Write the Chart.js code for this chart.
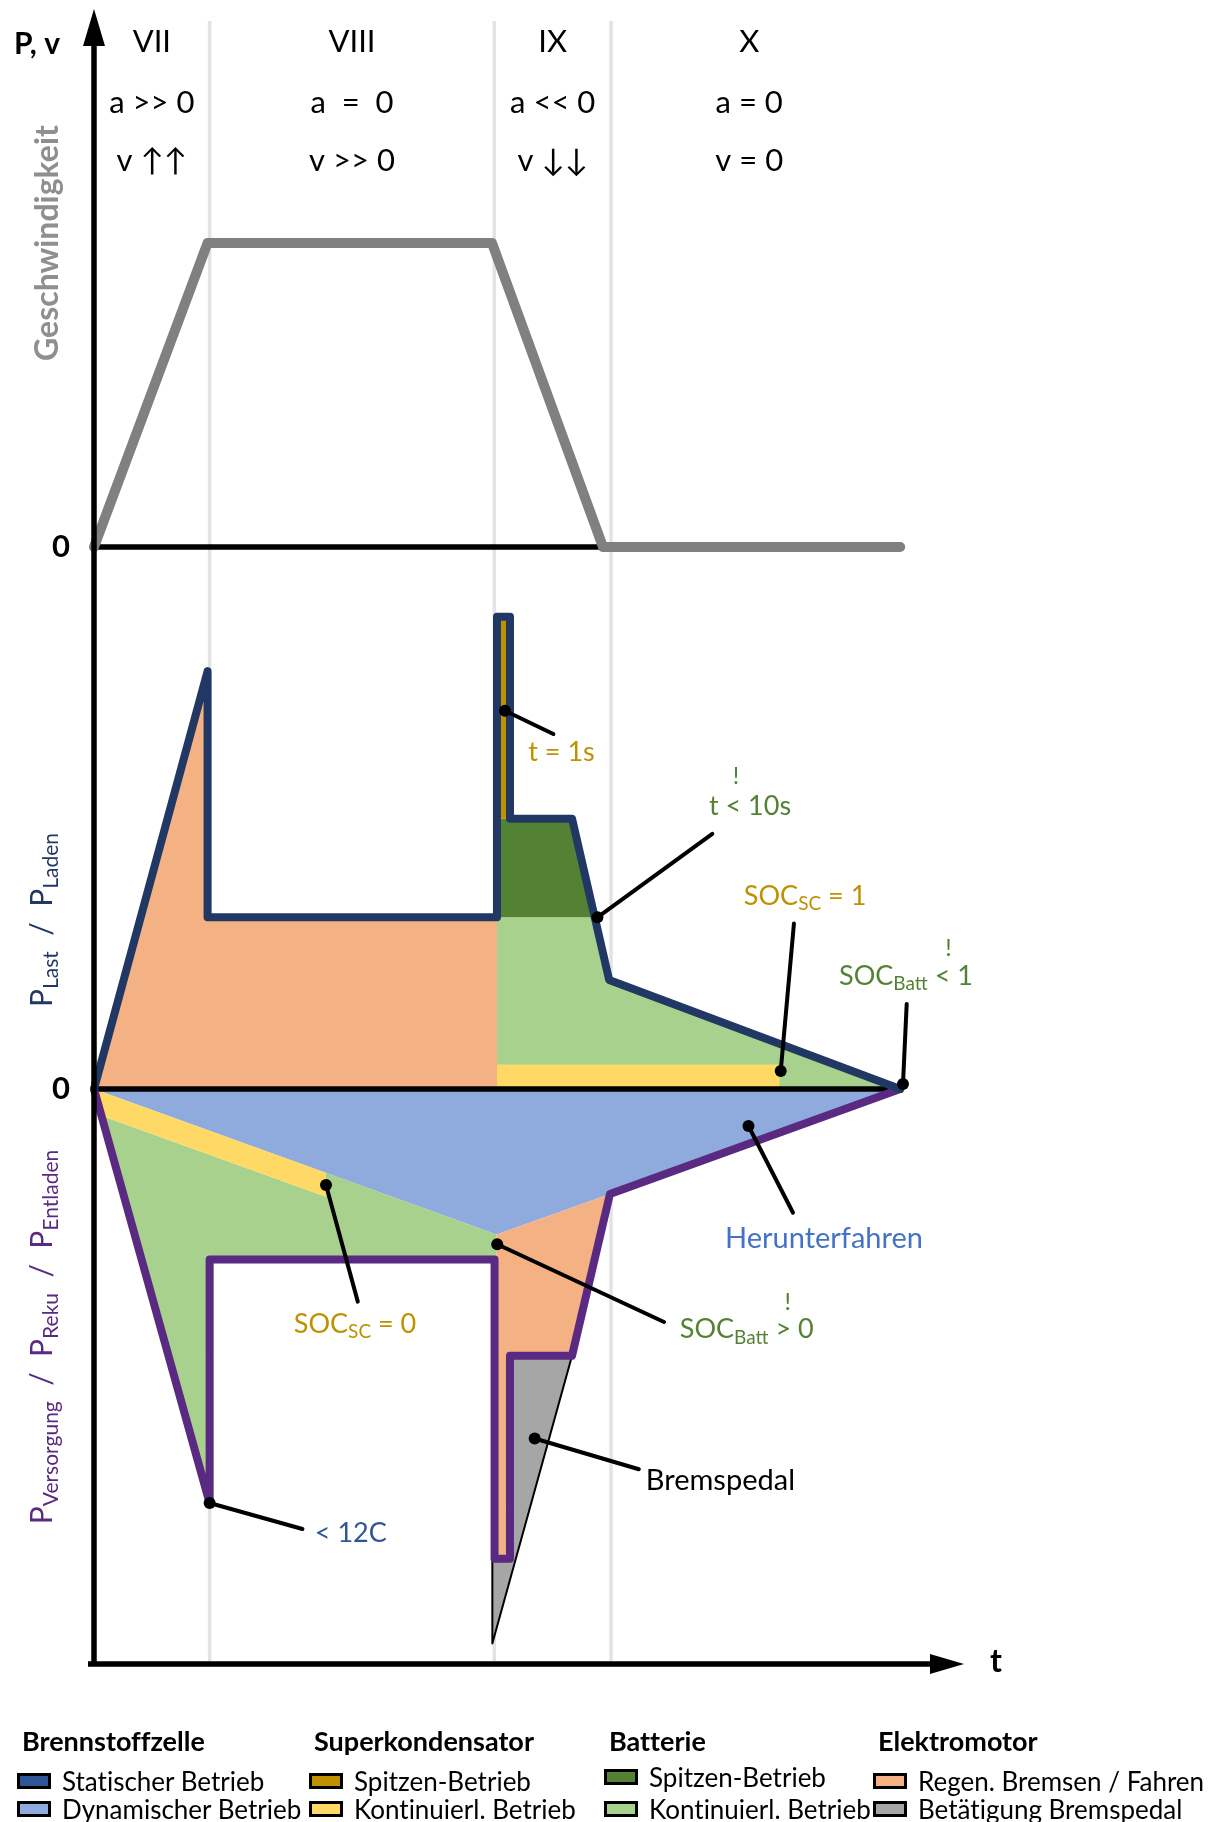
<!DOCTYPE html>
<html lang="de">
<head>
<meta charset="utf-8">
<title>Betriebsphasen VII–X</title>
<script src="https://cdn.jsdelivr.net/npm/chart.js@4.4.1/dist/chart.umd.min.js"></script>
<style>
  html, body { margin: 0; padding: 0; background: #fff; }
  #wrap { position: relative; width: 1217px; height: 1822px; overflow: hidden; }
  #legend { position: absolute; left: 0; top: 0; font-family: Lato, "Noto Sans", sans-serif; color: #000; font-variant-ligatures: none; }
  .col { position: absolute; top: 1726px; }
  .hd { font-weight: 700; font-size: 27px; line-height: 30px; height: 30px; padding-left: 5px; margin-bottom: 11px; }
  .it { font-size: 26px; line-height: 28px; height: 28px; white-space: nowrap; display: flex; align-items: center; }
  .box { display: inline-block; width: 28px; height: 10px; border: 3px solid #000; margin-right: 11px; }
</style>
</head>
<body>
<div id="wrap">
  <canvas id="chart"></canvas>
  <div id="legend"></div>
</div>
<script>
// Phasen VII..X auf der Zeitachse (willkürliche Einheiten)
const phaseEdges = [0, 9.97, 34.51, 44.57, 68.4];
const phaseNames = ['VII', 'VIII', 'IX', 'X'];
const accelLabels = ['a >> 0', 'a  =  0', 'a << 0', 'a = 0'];
const speedLabels = ['v \u2191\u2191', 'v >> 0', 'v \u2193\u2193', 'v = 0'];
const gridT = [9.97, 34.51, 44.57];

// Geschwindigkeit, normiert auf v_max
const speedT = [0, 9.79, 34.31, 43.88, 69.5];
const speedV = [0, 1, 1, 0, 0];
const zeroT = [0, 69.5];
const zeroV = [0, 0];

// Umriss P_Last (oben) und P_Versorgung (unten)
const lastT = [0, 9.79, 9.79, 34.74, 34.74, 35.86, 35.86, 41.21, 44.41, 69.5];
const lastP = [0, 36.0, 14.8, 14.8, 40.7, 40.7, 23.3, 23.3, 9.4, 0];
const versT = [0, 9.97, 9.97, 34.53, 34.53, 35.86, 35.86, 41.21, 44.48, 69.5];
const versP = [0, -35.7, -14.7, -14.7, -40.5, -40.5, -23.0, -23.0, -9.05, 0];

// Flächen der einzelnen Quellen
const motorUpT = [0, 9.79, 9.79, 34.74, 34.74];
const motorUpP = [0, 36.0, 14.8, 14.8, 0];
const battUpT = [34.74, 34.74, 43.16, 44.41, 69.5];
const battUpP = [0, 14.8, 14.8, 9.4, 0];
const scUpT = [34.74, 34.74, 59.1, 59.1];
const scUpP = [0, 2.1, 2.1, 0];
const battPeakT = [34.74, 34.74, 41.21, 43.16];
const battPeakP = [14.8, 23.3, 23.3, 14.8];
const scPeakT = [34.74, 34.74, 35.86, 35.86];
const scPeakP = [23.3, 40.7, 40.7, 23.3];

const fcDynT = [0, 34.7, 44.48, 69.5];
const fcDynP = [0, -12.55, -9.05, 0];
const battDownT = [0.64, 20.0, 20.0, 34.7, 34.7, 9.97, 9.97];
const battDownP = [-2.3, -9.3, -7.22, -12.55, -14.7, -14.7, -35.7];
const scDownT = [0, 20.0, 20.0, 0.64];
const scDownP = [0, -7.22, -9.3, -2.3];
const motorDownT = [34.7, 44.48, 41.21, 35.86, 35.86, 34.53];
const motorDownP = [-12.55, -9.05, -23.0, -23.0, -40.5, -40.5];
const pedalT = [35.86, 41.21, 34.34, 34.34, 35.86];
const pedalP = [-23.0, -23.0, -47.8, -40.5, -40.5];

// Legende
const legendGroups = ['Brennstoffzelle', 'Superkondensator', 'Batterie', 'Elektromotor'];
const legendItems = [
  ['Statischer Betrieb', 'Dynamischer Betrieb'],
  ['Spitzen-Betrieb', 'Kontinuierl. Betrieb'],
  ['Spitzen-Betrieb', 'Kontinuierl. Betrieb'],
  ['Regen. Bremsen / Fahren', 'Betätigung Bremspedal'],
];
const legendColors = [
  ['#2f5597', '#8faadc'],
  ['#bf9000', '#ffd966'],
  ['#548235', '#a9d18e'],
  ['#f4b183', '#a5a5a5'],
];
const legendLeft = [17, 309, 604, 873];

const FONT = 'Lato, "Noto Sans", sans-serif';
const NAVY = '#213864';
const PURPLE = '#5a2a82';
const GOLD = '#bf9000';
const GREEN = '#548235';

// Beschriftungen mit Führungslinien (Koordinaten in Achseneinheiten)
const notes = [
  { dot: [35.43, 32.6], end: [39.6, 30.6], at: [40.3, 29.0], parts: [['t = 1s']], color: GOLD },
  { dot: [43.4, 14.8], end: [53.3, 22.0], at: [56.55, 24.4], parts: [['t < 10s']], bang: [55.34, 27.0], color: GREEN },
  { dot: [59.2, 1.55], end: [60.34, 14.26], at: [61.3, 16.64], parts: [['SOC'], ['SC', 1], [' = 1']], color: GOLD },
  { dot: [69.74, 0.43], end: [70.06, 7.33], at: [70.0, 9.74], parts: [['SOC'], ['Batt', 1], [' < 1']], bang: [73.66, 12.16], color: GREEN },
  { dot: [56.42, -3.19], end: [60.26, -10.67], at: [62.93, -12.91], parts: [['Herunterfahren']], color: '#4472c4', size: 29 },
  { dot: [34.76, -13.39], end: [49.14, -20.09], at: [56.27, -20.72], parts: [['SOC'], ['Batt', 1], [' > 0']], bang: [59.81, -18.42], color: GREEN },
  { dot: [20.0, -8.28], end: [22.74, -18.33], at: [22.5, -20.26], parts: [['SOC'], ['SC', 1], [' = 0']], color: GOLD },
  { dot: [37.99, -30.13], end: [46.97, -32.78], at: [54.0, -33.79], parts: [['Bremspedal']], color: '#000', size: 29 },
  { dot: [9.97, -35.69], end: [17.97, -37.93], at: [22.14, -38.33], parts: [['< 12C']], color: '#2f5597' },
];

const pts = (ts, vs) => ts.map((t, i) => ({ x: t, y: vs[i] }));

// Flächen: spätere Einträge liegen oben (kleineres order wird zuletzt gezeichnet)
let areaOrder = 60;
function area(ts, ps, color) {
  return {
    data: pts(ts, ps), yAxisID: 'yP', showLine: true, fill: 'shape',
    backgroundColor: color, borderColor: 'rgba(0,0,0,0)', borderWidth: 0,
    pointRadius: 0, order: areaOrder--, clip: false,
  };
}

function stroke(ts, vs, axis, color, width, order) {
  return {
    data: pts(ts, vs), yAxisID: axis, showLine: true, fill: false,
    borderColor: color, borderWidth: width, borderJoinStyle: 'round', borderCapStyle: 'round',
    pointRadius: 0, order, clip: false,
  };
}

const datasets = [
  area(motorUpT, motorUpP, '#f4b183'),
  area(battUpT, battUpP, '#a9d18e'),
  area(scUpT, scUpP, '#ffd966'),
  area(battPeakT, battPeakP, '#548235'),
  area(scPeakT, scPeakP, '#bf9000'),
  area(fcDynT, fcDynP, '#8faadc'),
  area(battDownT, battDownP, '#a9d18e'),
  area(scDownT, scDownP, '#ffd966'),
  area(motorDownT, motorDownP, '#f4b183'),
  area(pedalT, pedalP, '#a6a6a6'),
  stroke(pedalT.slice(1, 4), pedalP.slice(1, 4), 'yP', '#000', 2, 15),
  stroke(zeroT, zeroV, 'yP', '#000', 5.5, 10),
  stroke(zeroT, zeroV, 'yV', '#000', 5.5, 10),
  stroke(versT, versP, 'yP', PURPLE, 8, 5),
  stroke(lastT, lastP, 'yP', NAVY, 8, 4),
  stroke(speedT, speedV, 'yV', '#808080', 10, 1),
];

// Text mit tiefgestellten Teilen: parts = [[text, istIndex], ...]
function richText(ctx, parts, x, y, size, color, weight) {
  const big = `${weight || 400} ${size}px ${FONT}`;
  const small = `${weight || 400} ${Math.round(size * 0.7)}px ${FONT}`;
  let w = 0;
  parts.forEach(([s, sub]) => { ctx.font = sub ? small : big; w += ctx.measureText(s).width; });
  let cx = x - w / 2;
  ctx.fillStyle = color;
  ctx.textAlign = 'left';
  ctx.textBaseline = 'middle';
  parts.forEach(([s, sub]) => {
    ctx.font = sub ? small : big;
    ctx.fillText(s, cx, sub ? y + size * 0.3 : y);
    cx += ctx.measureText(s).width;
  });
}

function rotated(ctx, parts, x, y, size, color, weight) {
  ctx.save();
  ctx.translate(x, y);
  ctx.rotate(-Math.PI / 2);
  richText(ctx, parts, 0, 0, size, color, weight);
  ctx.restore();
}

const decor = {
  id: 'decor',
  beforeDatasetsDraw(chart) {
    const { ctx, chartArea, scales: { x } } = chart;
    ctx.save();
    ctx.strokeStyle = '#e3e3e3';
    ctx.lineWidth = 3.5;
    gridT.forEach((t) => {
      const px = x.getPixelForValue(t);
      ctx.beginPath();
      ctx.moveTo(px, 21);
      ctx.lineTo(px, chartArea.bottom - 3);
      ctx.stroke();
    });
    ctx.restore();
  },
  afterDatasetsDraw(chart) {
    const { ctx, chartArea, scales: { x, yP, yV } } = chart;
    const x0 = x.getPixelForValue(0);
    ctx.save();

    // Achsen mit Pfeilspitzen
    ctx.strokeStyle = '#000';
    ctx.fillStyle = '#000';
    ctx.lineWidth = 5.5;
    ctx.beginPath();
    ctx.moveTo(x0, chartArea.bottom + 2);
    ctx.lineTo(x0, chartArea.top + 30);
    ctx.moveTo(x0 - 6, chartArea.bottom);
    ctx.lineTo(chartArea.right - 28, chartArea.bottom);
    ctx.stroke();
    ctx.beginPath();
    ctx.moveTo(x0, chartArea.top);
    ctx.lineTo(x0 + 11, chartArea.top + 37);
    ctx.lineTo(x0 - 11, chartArea.top + 37);
    ctx.closePath();
    ctx.fill();
    ctx.beginPath();
    ctx.moveTo(chartArea.right, chartArea.bottom);
    ctx.lineTo(chartArea.right - 34, chartArea.bottom - 10);
    ctx.lineTo(chartArea.right - 34, chartArea.bottom + 10);
    ctx.closePath();
    ctx.fill();

    // Führungslinien
    notes.forEach((n) => {
      const dx = x.getPixelForValue(n.dot[0]), dy = yP.getPixelForValue(n.dot[1]);
      ctx.lineWidth = 4;
      ctx.lineCap = 'round';
      ctx.beginPath();
      ctx.moveTo(dx, dy);
      ctx.lineTo(x.getPixelForValue(n.end[0]), yP.getPixelForValue(n.end[1]));
      ctx.stroke();
      ctx.beginPath();
      ctx.arc(dx, dy, 6, 0, Math.PI * 2);
      ctx.fill();
    });

    // Beschriftungen der Führungslinien
    notes.forEach((n) => {
      richText(ctx, n.parts, x.getPixelForValue(n.at[0]), yP.getPixelForValue(n.at[1]), n.size || 27, n.color);
      if (n.bang) {
        richText(ctx, [['!']], x.getPixelForValue(n.bang[0]), yP.getPixelForValue(n.bang[1]), 24, n.color);
      }
    });

    // Phasenköpfe
    phaseNames.forEach((name, i) => {
      const cx = x.getPixelForValue((phaseEdges[i] + phaseEdges[i + 1]) / 2);
      richText(ctx, [[name]], cx, 42, 31, '#000');
      richText(ctx, [[accelLabels[i]]], cx, 103, 31, '#000');
      richText(ctx, [[speedLabels[i]]], cx, 161, 31, '#000');
    });

    // Achsenbeschriftungen
    richText(ctx, [['P, v']], 37, 44, 30, '#000', 700);
    richText(ctx, [['0']], 61, yV.getPixelForValue(0), 31, '#000', 700);
    richText(ctx, [['0']], 61, yP.getPixelForValue(0), 31, '#000', 700);
    richText(ctx, [['t']], 996, chartArea.bottom - 2, 32, '#000', 700);

    rotated(ctx, [['Geschwindigkeit']], 48, 243, 32, '#8f8f8f', 700);
    rotated(ctx, [['P'], ['Last', 1], ['  /  P'], ['Laden', 1]], 42, 920, 30, NAVY);
    rotated(ctx, [['P'], ['Versorgung', 1], ['  /  P'], ['Reku', 1], ['  /  P'], ['Entladen', 1]], 42, 1337, 30, PURPLE);

    ctx.restore();
  },
};

new Chart(document.getElementById('chart'), {
  type: 'scatter',
  data: { datasets },
  options: {
    responsive: true,
    maintainAspectRatio: false,
    animation: false,
    events: [],
    layout: { padding: { left: 94, right: 253, top: 9, bottom: 158 } },
    plugins: { legend: { display: false }, tooltip: { enabled: false } },
    scales: {
      x: { type: 'linear', display: false, min: 0, max: 75 },
      yP: { type: 'linear', display: false, min: -49.57, max: 93.1 },
      yV: { type: 'linear', display: false, min: -3.674, max: 1.77 },
    },
  },
  plugins: [decor],
});

// Legende aufbauen
const legend = document.getElementById('legend');
legendGroups.forEach((group, g) => {
  const col = document.createElement('div');
  col.className = 'col';
  col.style.left = legendLeft[g] + 'px';
  let html = `<div class="hd">${group}</div>`;
  legendItems[g].forEach((label, i) => {
    const lift = g === 2 && i === 0 ? ' style="margin-top:-4px;margin-bottom:4px"' : '';
    html += `<div class="it"${lift}><span class="box" style="background:${legendColors[g][i]}"></span>${label}</div>`;
  });
  col.innerHTML = html;
  legend.appendChild(col);
});
</script>
</body>
</html>
